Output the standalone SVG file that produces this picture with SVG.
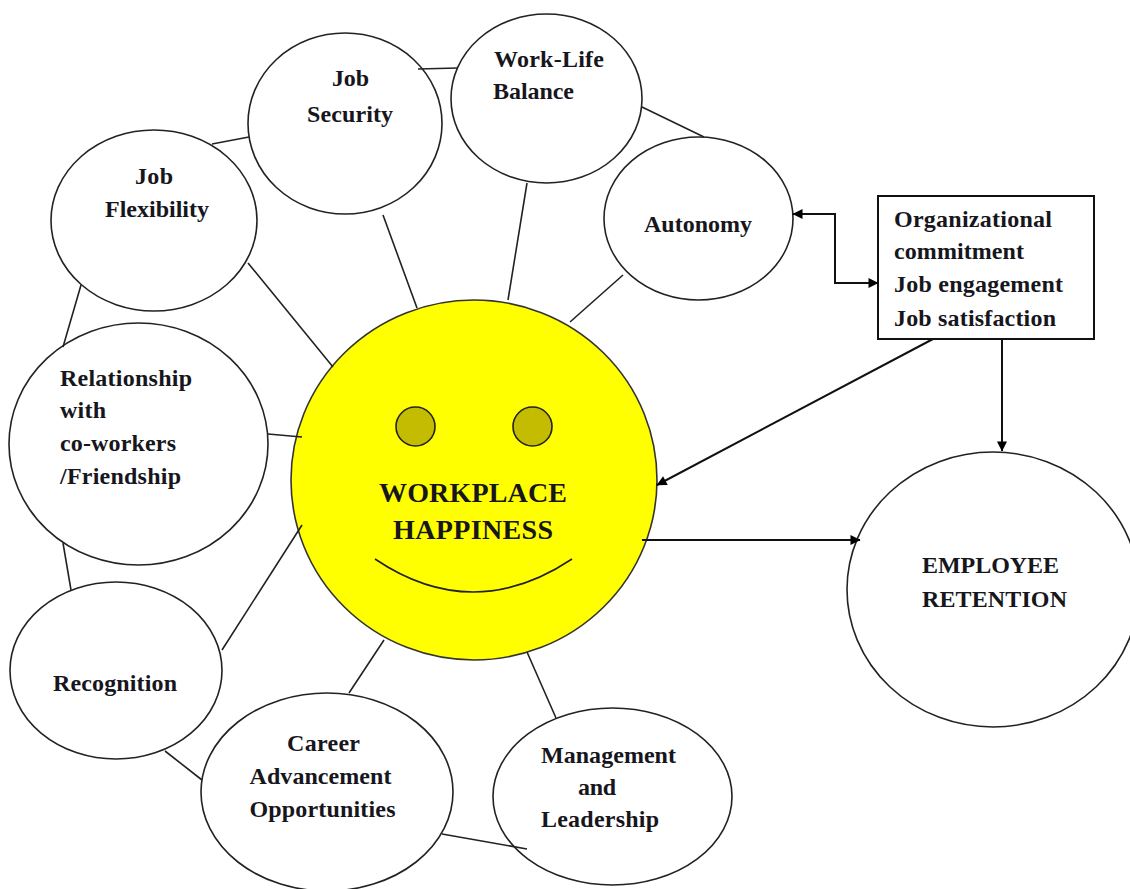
<svg xmlns="http://www.w3.org/2000/svg" width="1130" height="889" viewBox="0 0 1130 889">
<style>
.n{fill:#fff;stroke:#222;stroke-width:1.6}
.c{fill:none;stroke:#222;stroke-width:1.6}
.a{fill:none;stroke:#111;stroke-width:2}
.f{fill:#c4bc00;stroke:#222;stroke-width:1.6}
text{font-family:"Liberation Serif",serif;font-weight:bold;font-size:24px;fill:#16161c}
.b{font-size:28px}
</style>
<defs>
<marker id="ah" viewBox="0 0 10 10" refX="9.5" refY="5" markerWidth="11" markerHeight="10" markerUnits="userSpaceOnUse" orient="auto-start-reverse"><path d="M0 0L10 5L0 10z" fill="#000"/></marker>
</defs>
<rect width="1130" height="889" fill="#fff"/>
<g id="job-security"><ellipse class="n" cx="345" cy="123.500" rx="97" ry="90.500"/><text x="332" y="86" textLength="37">Job</text><text x="307" y="122" textLength="86">Security</text></g>
<g id="work-life"><ellipse class="n" cx="546.500" cy="98.500" rx="95.500" ry="84.500"/><text x="494" y="67" textLength="110">Work-Life</text><text x="493" y="99" textLength="81">Balance</text></g>
<g id="autonomy"><ellipse class="n" cx="698.500" cy="218.500" rx="94.500" ry="81.500"/><text x="644" y="232" textLength="108">Autonomy</text></g>
<g id="job-flexibility"><ellipse class="n" cx="154" cy="220.500" rx="103" ry="90.500"/><text x="135" y="184" textLength="38">Job</text><text x="105" y="217" textLength="104">Flexibility</text></g>
<g id="relationship"><ellipse class="n" cx="138.500" cy="444" rx="129.500" ry="121"/><text x="60" y="386" textLength="132">Relationship</text><text x="60" y="418" textLength="46">with</text><text x="60" y="451" textLength="116">co-workers</text><text x="60" y="484" textLength="121">/Friendship</text></g>
<g id="recognition"><ellipse class="n" cx="116" cy="670.500" rx="106" ry="88.500"/><text x="53" y="691" textLength="124">Recognition</text></g>
<g id="career"><ellipse class="n" cx="327" cy="792" rx="126" ry="99"/><text x="287" y="751" textLength="73">Career</text><text x="249.500" y="784" textLength="142">Advancement</text><text x="249.500" y="817" textLength="146">Opportunities</text></g>
<g id="management"><ellipse class="n" cx="612.500" cy="796.500" rx="119.500" ry="88.500"/><text x="541" y="763" textLength="135">Management</text><text x="578" y="795" textLength="38">and</text><text x="541" y="827" textLength="118">Leadership</text></g>
<g id="workplace-happiness">
<ellipse cx="474" cy="480" rx="183" ry="180" fill="#ff0" stroke="#333" stroke-width="1.600"/>
<circle class="f" cx="415.500" cy="426.500" r="19.500"/>
<circle class="f" cx="532.500" cy="426.500" r="19.500"/>
<path class="c" d="M375 559Q473 625 572 559"/>
<text class="b" x="379" y="502" textLength="188">WORKPLACE</text><text class="b" x="393" y="539" textLength="160">HAPPINESS</text>
</g>
<g id="employee-retention"><ellipse class="n" cx="993" cy="589.500" rx="146" ry="137.500"/><text x="922" y="573" textLength="137">EMPLOYEE</text><text x="922" y="607" textLength="145">RETENTION</text></g>
<g id="factors"><rect x="878" y="196" width="216" height="143" fill="#fff" stroke="#111" stroke-width="2"/><text x="894" y="227" textLength="158">Organizational</text><text x="894" y="259" textLength="130">commitment</text><text x="894" y="292" textLength="169">Job engagement</text><text x="894" y="326" textLength="162">Job satisfaction</text></g>
<g id="connectors">
<path class="c" d="M418 69L458 68M212 144L249 137M642 107L704 137M81 285L63 347M63 543L71 590M165 751L202 780M442 834L527 849M383 215L417 308M527 183L508 300M623 275L570 322M248 263L333 367M268 434L302 437M222 650L302 525M349 693L384 640M556 718L527 652"/>
<path class="a" d="M793 214H835V283H878" marker-start="url(#ah)" marker-end="url(#ah)"/>
<path class="a" d="M933 339L657 485" marker-end="url(#ah)"/>
<path class="a" d="M1002 339V451" marker-end="url(#ah)"/>
<path class="a" d="M642 540H860" marker-end="url(#ah)"/>
</g>
</svg>
